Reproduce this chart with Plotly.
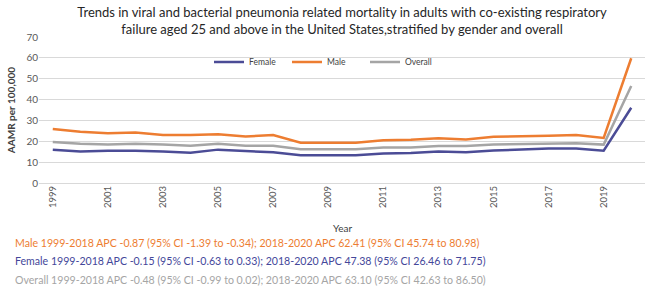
import plotly.graph_objects as go

years = list(range(1999, 2021))
female = [16.0, 15.1, 15.5, 15.5, 15.1, 14.5, 16.0, 15.3, 14.7, 13.3, 13.3, 13.3, 14.1, 14.4, 15.1, 14.7, 15.6, 16.2, 16.5, 16.6, 15.5, 36.1]
male = [25.9, 24.6, 23.8, 24.2, 23.0, 23.0, 23.4, 22.3, 23.0, 19.3, 19.3, 19.3, 20.5, 20.7, 21.4, 20.9, 22.2, 22.3, 22.6, 23.0, 21.6, 59.8]
overall = [19.6, 18.8, 18.5, 18.8, 18.5, 17.9, 18.8, 17.9, 17.9, 16.2, 16.2, 16.2, 17.0, 17.0, 17.7, 17.7, 18.4, 18.6, 18.9, 19.1, 18.4, 46.5]
tick_years = list(range(1999, 2020, 2))

series = [("Female", female, "#4B4C96"), ("Male", male, "#ED7D31"), ("Overall", overall, "#A5A5A5")]

notes = [
    ("Male 1999-2018 APC -0.87 (95% CI -1.39 to -0.34); 2018-2020 APC 62.41 (95% CI 45.74 to 80.98)", "#ED7D31"),
    ("Female 1999-2018 APC -0.15 (95% CI -0.63 to 0.33); 2018-2020 APC 47.38 (95% CI 26.46 to 71.75)", "#44479A"),
    ("Overall 1999-2018 APC -0.48 (95% CI -0.99 to 0.02); 2018-2020 APC 63.10 (95% CI 42.63 to 86.50)", "#A5A5A5"),
]

FONT = "Lato"
fig = go.Figure()
for name, vals, col in series:
    fig.add_trace(go.Scatter(x=years, y=vals, name=name, mode="lines",
                             line=dict(color=col, width=2.5)))

W, H = 650, 298
L, R, T, B = 39, 5, 37, 115
pw, ph = W - L - R, H - T - B

def px_x(x):
    return (x - L) / pw

def px_y(y):
    return (H - B - y) / ph

anns = []
for i, (txt, col) in enumerate(notes):
    anns.append(dict(text=txt, x=px_x(13), y=px_y(242.5 + i * 18.5), xref="paper", yref="paper",
                     xanchor="left", yanchor="middle", showarrow=False,
                     font=dict(family=FONT, size=10.6, color=col)))
anns.append(dict(text="Year", x=0.5, y=px_y(228), xref="paper", yref="paper",
                 xanchor="center", yanchor="middle", showarrow=False,
                 font=dict(family=FONT, size=10, color="#404040")))

fig.update_layout(
    width=W, height=H,
    margin=dict(l=L, r=R, t=T, b=B),
    paper_bgcolor="white", plot_bgcolor="white",
    title=dict(text="Trends in viral and bacterial pneumonia related mortality in adults with co-existing respiratory<br>failure aged 25 and above in the United States,stratified by gender and overall",
               x=0.5, xref="paper", xanchor="center", y=1 - 17 / H, yref="container", yanchor="middle",
               font=dict(family=FONT, size=13, color="#262626")),
    font=dict(family=FONT),
    showlegend=True,
    legend=dict(orientation="h", x=px_x(209), y=px_y(62), xanchor="left", yanchor="middle",
                font=dict(family=FONT, size=8.5, color="#404040"), bgcolor="rgba(0,0,0,0)",
                entrywidth=33, entrywidthmode="pixels", itemwidth=30, tracegroupgap=0),
    annotations=anns,
    xaxis=dict(range=[1998.5, 2020.5], tickmode="array", tickvals=tick_years,
               ticktext=[str(y) for y in tick_years], tickangle=-90,
               showgrid=False, zeroline=False, showline=False, ticks="",
               tickfont=dict(family=FONT, size=9.5, color="#595959")),
    yaxis=dict(range=[0, 70], dtick=10, showgrid=True, gridcolor="#D9D9D9", gridwidth=1,
               zeroline=True, zerolinecolor="#D9D9D9", zerolinewidth=1, showline=False, ticks="",
               tickfont=dict(family=FONT, size=10, color="#595959"),
               title=dict(text="<b>AAMR per 100,000</b>", standoff=8,
                          font=dict(family=FONT, size=10, color="#404040"))),
)

fig.write_html("out.html")
